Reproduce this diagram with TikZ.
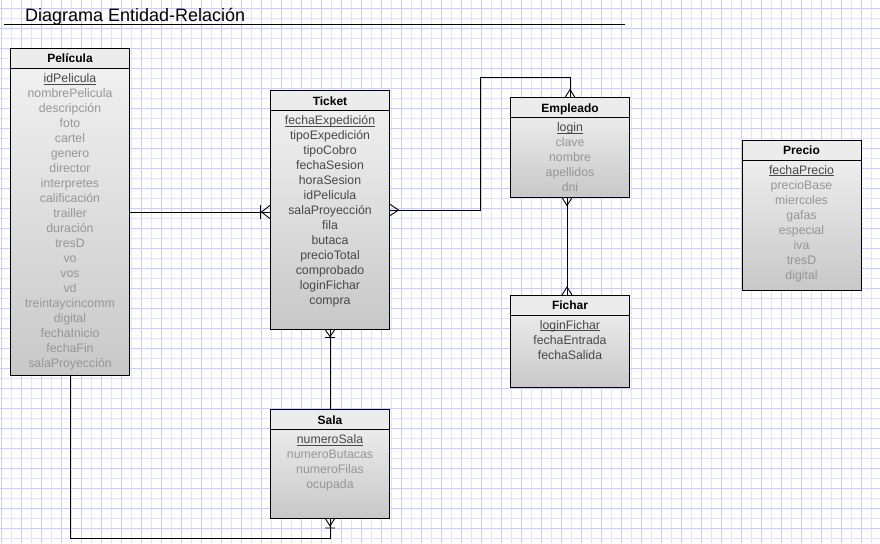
\documentclass[tikz,border=0pt]{standalone}
\usepackage{fontspec}
\setmainfont{Liberation Sans}
\usetikzlibrary{calc}
\definecolor{gridminorc}{RGB}{226,226,248}
\definecolor{gridmajorc}{RGB}{204,204,255}
\definecolor{attrdark}{RGB}{72,72,72}
\definecolor{attrlight}{RGB}{150,150,150}
\definecolor{boxtop}{RGB}{243,243,243}
\definecolor{boxbot}{RGB}{200,200,200}
\definecolor{headfill}{RGB}{236,236,236}
\newsavebox\keybox
\newcommand{\keyul}[1]{\sbox\keybox{#1}\rlap{\rule[-2pt]{\wd\keybox}{0.8pt}}\usebox\keybox}
\tikzset{
 gridminorline/.style={draw=gridminorc, line width=0.8pt},
 gridmajorline/.style={draw=gridmajorc, line width=0.8pt},
 entbody/.style={draw=black, line width=0.9pt, rectangle, inner sep=0pt, outer sep=0pt,
   top color=boxtop, bottom color=boxbot, minimum width=119pt, anchor=north west},
 enthead/.style={draw=black, line width=0.9pt, rectangle, inner sep=0pt, outer sep=0pt,
   fill=headfill, minimum width=119pt, minimum height=20pt, anchor=north west},
 headtxt/.style={font=\bfseries\fontsize{12}{14}\selectfont, anchor=base, inner sep=0pt},
 attr/.style={font=\fontsize{12.3}{14}\selectfont, anchor=base, inner sep=0pt},
 titletxt/.style={font=\fontsize{18}{20}\selectfont, anchor=base west, inner sep=0pt},
 rel/.style={draw=black, line width=0.9pt},
}
\newcommand{\erentity}[6]{%
 \node[entbody, minimum height=#4pt] (#1) at (#2,#3) {};
 \node[enthead] (#1-head) at (#2,#3) {};
 \node[headtxt] (#1-title) at (#2+59.5,#3+14.5) {#5};
 \node[attr, text=attrdark] (#1-key) at (#2+59.5,#3+34) {\keyul{#6}};
}
\newcommand{\erattrs}[5]{%
 \foreach \t [count=\k] in {#5} {\node[attr, text=#4] (#1-a\k) at (#2+59.5,#3+34+15*\k) {\t};}
}
\begin{document}
\begin{tikzpicture}[x=1pt,y=-1pt]
\useasboundingbox (0,0) rectangle (880,543);
\fill[white] (0,0) rectangle (880,543);
% grid
\foreach \x in {11,31,...,871} \draw[gridminorline] (\x,0) -- (\x,543);
\foreach \y in {18,38,...,538} \draw[gridminorline] (0,\y) -- (880,\y);
\foreach \x in {1,21,...,861} \draw[gridmajorline] (\x,0) -- (\x,543);
\foreach \y in {8,28,...,528} \draw[gridmajorline] (0,\y) -- (880,\y);
% title
\node[titletxt] (title) at (25,21.5) {Diagrama Entidad-Relación};
\draw[rel] (4,24.5) -- (625,24.5);
% entities
\erentity{pel}{10.5}{48.5}{327}{Película}{idPelicula}
\erattrs{pel}{10.5}{48.5}{attrlight}{nombrePelicula,descripción,foto,cartel,genero,director,interpretes,calificación,trailler,duración,tresD,vo,vos,vd,treintaycincomm,digital,fechaInicio,fechaFin,salaProyección}
\erentity{tic}{270.5}{90.5}{239}{Ticket}{fechaExpedición}
\erattrs{tic}{270.5}{90.5}{attrdark}{tipoExpedición,tipoCobro,fechaSesion,horaSesion,idPelicula,salaProyección,fila,butaca,precioTotal,comprobado,loginFichar,compra}
\erentity{emp}{510.5}{97.5}{100}{Empleado}{login}
\erattrs{emp}{510.5}{97.5}{attrlight}{clave,nombre,apellidos,dni}
\erentity{fic}{510.5}{295}{92.5}{Fichar}{loginFichar}
\erattrs{fic}{510.5}{295}{attrdark}{fechaEntrada,fechaSalida}
\erentity{pre}{742}{140}{150}{Precio}{fechaPrecio}
\erattrs{pre}{742}{140}{attrlight}{precioBase,miercoles,gafas,especial,iva,tresD,digital}
\erentity{sal}{270.5}{409.5}{108.5}{Sala}{numeroSala}
\erattrs{sal}{270.5}{409.5}{attrlight}{numeroButacas,numeroFilas,ocupada}
% Pelicula - Ticket
\coordinate (c1) at (pel.east -| tic.west);
\draw[rel] (pel.east) -- (c1);
\draw[rel] ($(c1)+(0,-7)$) -- ($(c1)+(-9,0)$) -- ($(c1)+(0,7)$)
  ($(c1)+(-10,-7)$) -- ($(c1)+(-10,7)$);
% Ticket - Empleado
\coordinate (te) at (480,77);
\draw[rel] (tic.east) -| (te) -| (emp.north);
\draw[rel] ($(tic.east)+(0,-6)$) -- ($(tic.east)+(9,0)$) -- ($(tic.east)+(0,6)$);
\draw[rel] ($(emp.north)+(-5,0)$) -- ($(emp.north)+(0,-8)$) -- ($(emp.north)+(5,0)$);
% Empleado - Fichar
\coordinate (ef1) at ($(emp.south)+(-3,0)$);
\coordinate (ef2) at ($(fic.north)+(-3,0)$);
\draw[rel] (ef1) -- (ef2);
\draw[rel] ($(ef1)+(-5,0)$) -- ($(ef1)+(0,8)$) -- ($(ef1)+(5,0)$);
\draw[rel] ($(ef2)+(-5,0)$) -- ($(ef2)+(0,-8)$) -- ($(ef2)+(5,0)$);
% Ticket - Sala
\draw[rel] (tic.south) -- (sal.north);
\draw[rel] ($(tic.south)+(-5,0)$) -- ($(tic.south)+(0,7)$) -- ($(tic.south)+(5,0)$)
  ($(tic.south)+(-5,8)$) -- ($(tic.south)+(5,8)$);
% Pelicula - Sala
\coordinate (ps) at (70,538);
\draw[rel] (pel.south) -- (ps) -| (sal.south);
\draw[rel] ($(sal.south)+(-5,0)$) -- ($(sal.south)+(0,8)$) -- ($(sal.south)+(5,0)$)
  ($(sal.south)+(-5,10)$) -- ($(sal.south)+(5,10)$);
\end{tikzpicture}
\end{document}
